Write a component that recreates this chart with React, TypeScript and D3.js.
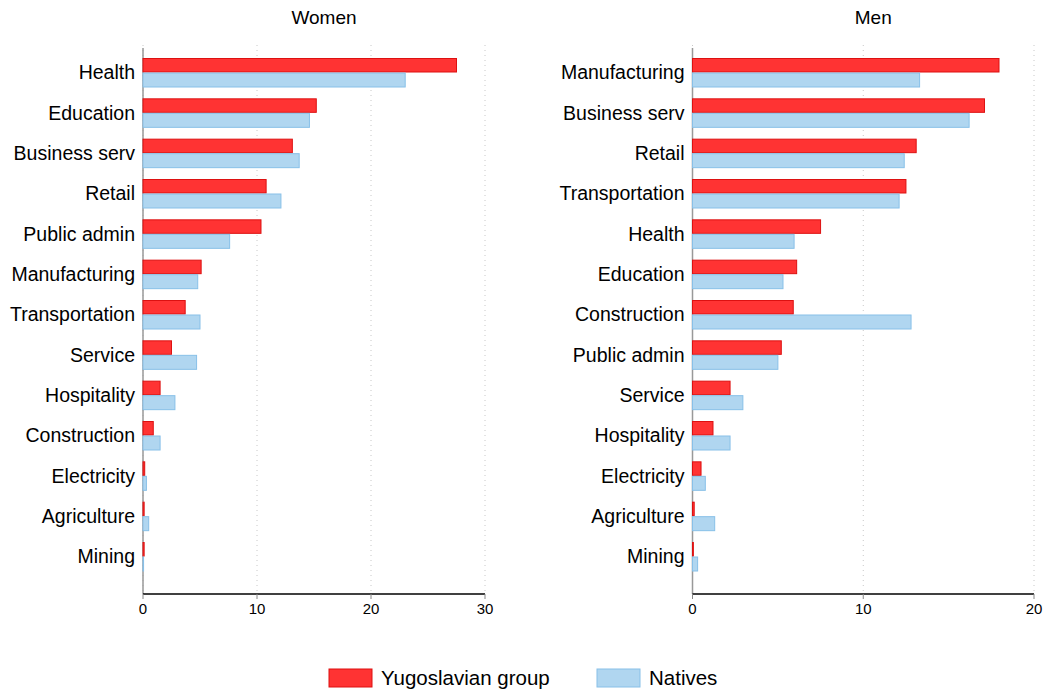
import * as d3 from "d3";

const womenCats = ["Health", "Education", "Business serv", "Retail", "Public admin", "Manufacturing", "Transportation", "Service", "Hospitality", "Construction", "Electricity", "Agriculture", "Mining"];
const womenYugo = [27.5, 15.2, 13.1, 10.8, 10.35, 5.1, 3.7, 2.5, 1.5, 0.9, 0.15, 0.1, 0.1];
const womenNat = [23.0, 14.6, 13.7, 12.1, 7.6, 4.8, 5.0, 4.7, 2.8, 1.5, 0.3, 0.5, 0.05];

const menCats = ["Manufacturing", "Business serv", "Retail", "Transportation", "Health", "Education", "Construction", "Public admin", "Service", "Hospitality", "Electricity", "Agriculture", "Mining"];
const menYugo = [17.95, 17.1, 13.1, 12.5, 7.5, 6.1, 5.9, 5.2, 2.2, 1.2, 0.5, 0.1, 0.05];
const menNat = [13.3, 16.2, 12.4, 12.1, 5.95, 5.3, 12.8, 5.0, 2.95, 2.2, 0.75, 1.3, 0.3];

const RED = "#ff3333", RED_S = "#dd1111", BLUE = "#b0d6f0", BLUE_S = "#88c0e8";
const FONT = "Liberation Sans, Arial, sans-serif";

function Panel({ title, cats, yugo, nat, x0, x1, max, ticks }: {
  title: string; cats: string[]; yugo: number[]; nat: number[]; x0: number; x1: number; max: number; ticks: number[];
}) {
  const x = d3.scaleLinear().domain([0, max]).range([x0, x1]);
  const y = d3.scalePoint<string>().domain(cats).range([72.5, 556.5]);
  const bh = 14;
  const top = 45, axisY = 594;
  return (
    <g>
      <text x={(x0 + x1) / 2 + 10} y={24} textAnchor="middle" fontSize={19} fontFamily={FONT}>{title}</text>
      {ticks.map((t) => (
        <line key={t} x1={x(t)} x2={x(t)} y1={top} y2={axisY} stroke="#c8c8c8" strokeDasharray="1 4" />
      ))}
      <line x1={x0} x2={x0} y1={48} y2={axisY} stroke="#999" strokeWidth={1.5} />
      {cats.map((c, i) => (
        <g key={c}>
          <text x={x0 - 8} y={y(c)!} dy="0.35em" textAnchor="end" fontSize={19.5} fontFamily={FONT}>{c}</text>
          <rect x={x(0)} y={y(c)! - bh} width={x(yugo[i]) - x(0)} height={bh - 0.5} fill={RED} stroke={RED_S} strokeWidth={1} />
          <rect x={x(0)} y={y(c)! + 0.5} width={x(nat[i]) - x(0)} height={bh} fill={BLUE} stroke={BLUE_S} strokeWidth={1} />
        </g>
      ))}
      <line x1={x0} x2={x1} y1={axisY} y2={axisY} stroke="#000" strokeWidth={1.5} />
      {ticks.map((t) => (
        <g key={t}>
          <line x1={x(t)} x2={x(t)} y1={axisY} y2={axisY + 5} stroke="#888" />
          <text x={x(t)} y={axisY + 20} textAnchor="middle" fontSize={15} fontFamily={FONT}>{t}</text>
        </g>
      ))}
    </g>
  );
}

export default function App() {
  return (
    <svg width={1047} height={693} style={{ position: "absolute", left: 0, top: 0, background: "#fff" }}>
      <Panel title="Women" cats={womenCats} yugo={womenYugo} nat={womenNat} x0={143} x1={485} max={30} ticks={[0, 10, 20, 30]} />
      <Panel title="Men" cats={menCats} yugo={menYugo} nat={menNat} x0={692.5} x1={1034} max={20} ticks={[0, 10, 20]} />
      <rect x={329} y={669} width={43} height={18} fill={RED} stroke={RED_S} />
      <text x={381} y={678} dy="0.35em" fontSize={20.5} fontFamily={FONT}>Yugoslavian group</text>
      <rect x={597} y={669} width={43} height={18} fill={BLUE} stroke={BLUE_S} />
      <text x={649} y={678} dy="0.35em" fontSize={20.5} fontFamily={FONT}>Natives</text>
    </svg>
  );
}
